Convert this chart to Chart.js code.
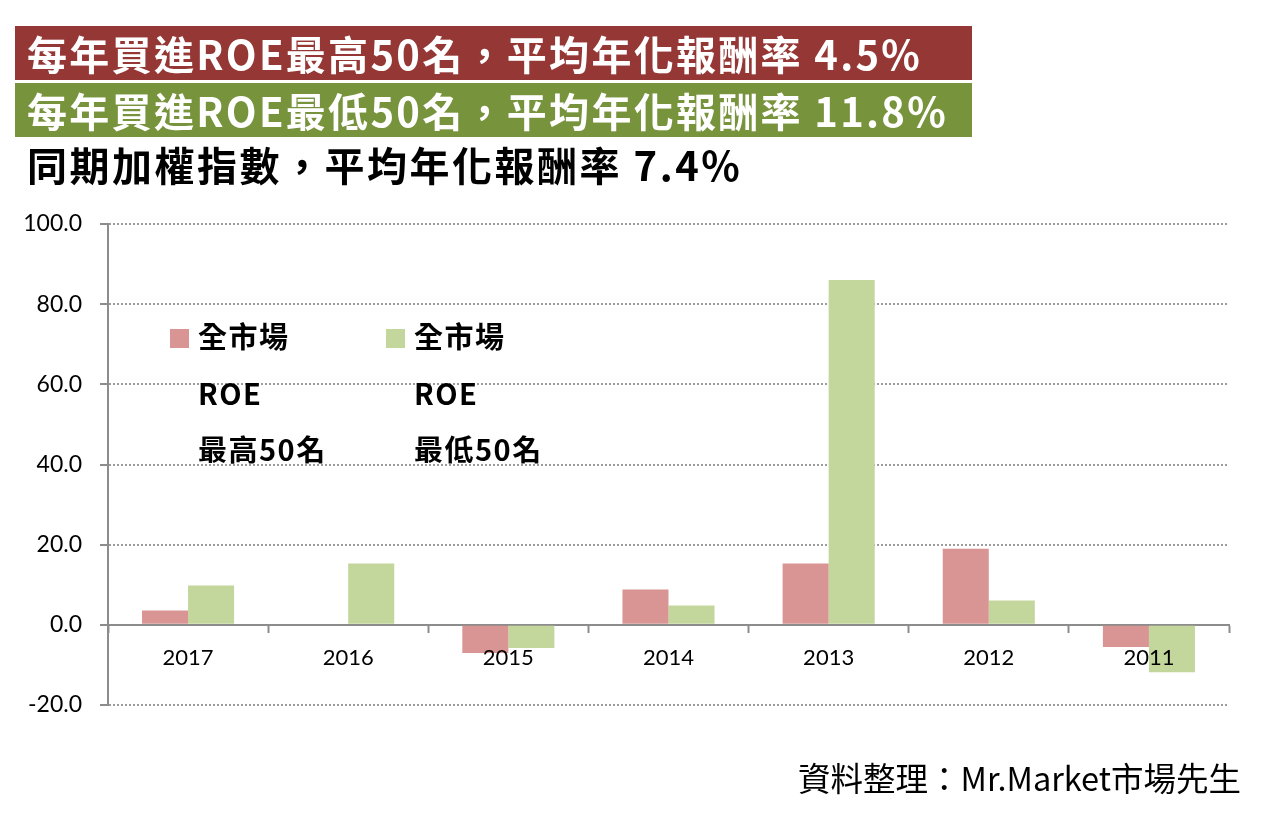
<!DOCTYPE html>
<html>
<head>
<meta charset="utf-8">
<script src="https://cdn.jsdelivr.net/npm/chart.js@4"></script>
<style>
  body { margin: 0; background: #fff; font-family: "Noto Sans CJK TC", sans-serif; }
  #wrap { position: relative; width: 1263px; height: 815px; overflow: hidden; }
  #myChart { position: absolute; left: 0; top: 0; }
  .banner { position: absolute; left: 15px; width: 957px; height: 54px; color: #fff;
            font-size: 40px; font-weight: 700; letter-spacing: 2.3px; line-height: 54px; padding-left: 12px; box-sizing: border-box; }
  #b1 { top: 26px; background: #953735; }
  #b2 { top: 83px; background: #77933c; }
  #t3 { position: absolute; left: 27px; top: 137px; font-size: 40px; font-weight: 700; letter-spacing: 2.5px; line-height: 54px; color: #000; }
  #src { position: absolute; right: 22px; top: 755px; font-size: 32.5px; line-height: 44px; color: #000; }
  .lg { position: absolute; top: 329px; font-size: 29px; font-weight: 700; letter-spacing: 1.5px; color: #000; }
  .lg .box { position: absolute; left: 0; top: 0; width: 19px; height: 19px; }
  .lg .txt { position: absolute; left: 28px; top: -22px; line-height: 56.5px; white-space: nowrap; }
</style>
</head>
<body>
<div id="wrap">
  <canvas id="myChart" width="1263" height="815"></canvas>
  <div class="banner" id="b1">每年買進ROE最高50名，平均年化報酬率 4.5%</div>
  <div class="banner" id="b2">每年買進ROE最低50名，平均年化報酬率 11.8%</div>
  <div id="t3">同期加權指數，平均年化報酬率 7.4%</div>
  <div id="legend"></div>
  <div id="src">資料整理：Mr.Market市場先生</div>
</div>
<script>
const years = ['2017', '2016', '2015', '2014', '2013', '2012', '2011'];
const roeTop50 = [3.6, 0, -7.0, 8.8, 15.3, 19.0, -5.5];
const roeLow50 = [9.8, 15.3, -5.8, 4.8, 86.0, 6.1, -11.8];
const topLabel = ['全市場', 'ROE', '最高50名'];
const lowLabel = ['全市場', 'ROE', '最低50名'];
const yMin = -20, yMax = 100, yStep = 20;

const ctx = document.getElementById('myChart');
const myChart = new Chart(ctx, {
    type: 'bar',
    data: {
        labels: years,
        datasets: [
            {
                label: topLabel,
                data: roeTop50,
                backgroundColor: '#d99594',
                barPercentage: 1,
                categoryPercentage: 0.575
            },
            {
                label: lowLabel,
                data: roeLow50,
                backgroundColor: '#c3d69b',
                barPercentage: 1,
                categoryPercentage: 0.575
            }
        ]
    },
    options: {
        responsive: false,
        animation: false,
        layout: {
            padding: { top: 224, right: 34, bottom: 110, left: 0 }
        },
        plugins: {
            legend: { display: false },
            tooltip: { enabled: false }
        },
        scales: {
            y: {
                min: yMin,
                max: yMax,
                afterFit: function (scale) { scale.width = 108; },
                border: { color: '#8c8c8c', width: 2, dash: [2, 2] },
                grid: {
                    color: '#9c9c9c',
                    lineWidth: 2,
                    tickColor: '#8c8c8c',
                    tickLength: 8,
                    tickWidth: 2,
                    tickBorderDash: []
                },
                ticks: {
                    stepSize: yStep,
                    padding: 18,
                    color: '#000',
                    font: { family: 'Lato', size: 23 },
                    callback: function (value) { return value.toFixed(1); }
                }
            },
            x: {
                position: { y: 0 },
                border: { color: '#8c8c8c', width: 2 },
                grid: {
                    drawOnChartArea: false,
                    tickColor: '#8c8c8c',
                    tickLength: 7,
                    tickWidth: 2
                },
                ticks: {
                    z: 1,
                    padding: 13,
                    color: '#000',
                    font: { family: 'Lato', size: 22 }
                }
            }
        }
    }
});

// legend laid out as in the original (three lines per entry)
function buildLegend(chart) {
    const holder = document.getElementById('legend');
    const lefts = [170, 386];
    chart.data.datasets.forEach(function (ds, i) {
        const item = document.createElement('div');
        item.className = 'lg';
        item.style.left = lefts[i] + 'px';
        item.innerHTML = '<div class="box" style="background:' + ds.backgroundColor + '"></div>' +
            '<div class="txt">' + ds.label.join('<br>') + '</div>';
        holder.appendChild(item);
    });
}
buildLegend(myChart);
</script>
</body>
</html>
